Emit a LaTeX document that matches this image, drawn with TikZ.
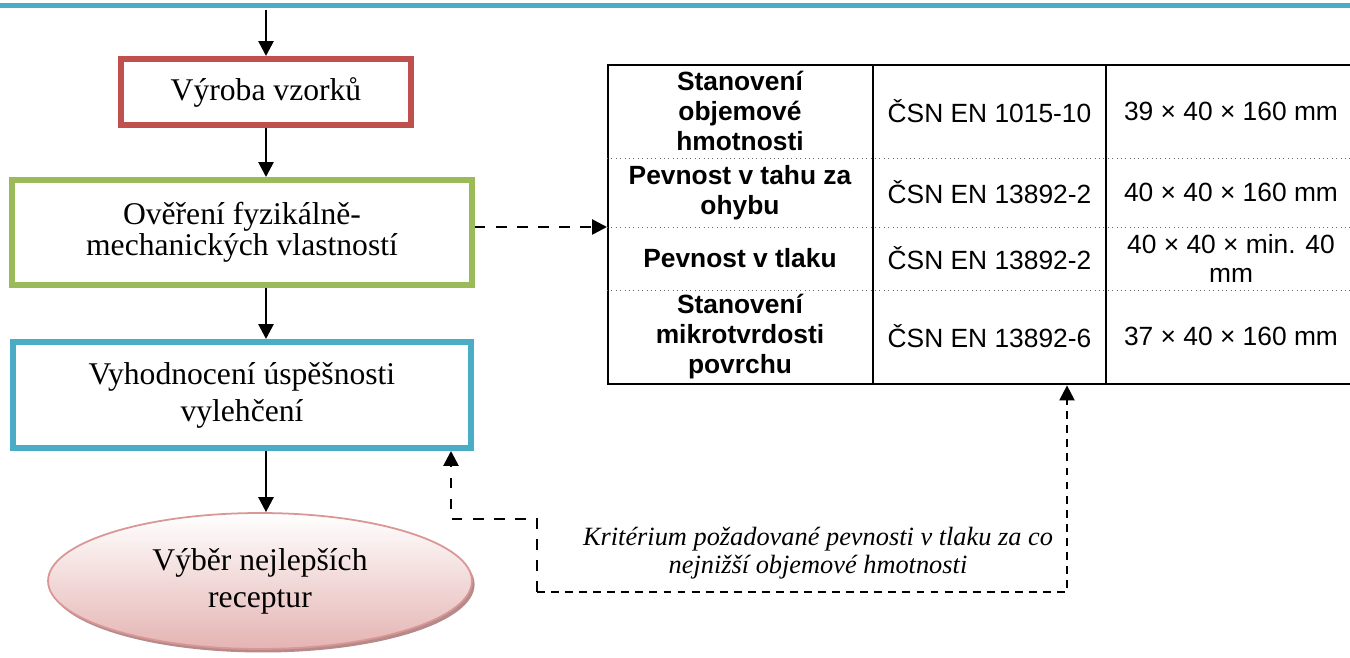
\documentclass[tikz,border=0pt]{standalone}
\usepackage{fontspec}
\setmainfont{Liberation Serif}
\setsansfont{Liberation Sans}
\usetikzlibrary{arrows.meta,shapes.geometric,shadows}

\definecolor{accentblue}{HTML}{4BACC6}
\definecolor{accentred}{HTML}{C0504D}
\definecolor{accentgreen}{HTML}{9BBB59}
\definecolor{ellpink}{HTML}{E4B4B3}
\definecolor{ellborder}{HTML}{D99694}
\definecolor{ellshadow}{HTML}{B48A8A}

\begin{document}
\begin{tikzpicture}[x=0.02cm, y=-0.02cm,
  stepbox/.style={draw, line width=3.4pt, align=center, inner sep=0pt,
    font=\fontsize{18}{21}\selectfont},
  flow/.style={-{Triangle[length=8.5pt,width=8.5pt]}, line width=1.5pt},
  dashwide/.style={flow, dash pattern=on 6pt off 6pt},
  dashnarrow/.style={flow, line width=1.3pt, dash pattern=on 4.5pt off 3.5pt},
  headcell/.style={font=\sffamily\bfseries\fontsize{15}{17}\selectfont, align=center},
  cell/.style={font=\sffamily\fontsize{15}{17}\selectfont, align=center},
  tabrule/.style={line width=1.4pt},
  rowrule/.style={black!60, line width=0.5pt, dotted}]
  \useasboundingbox (0,0) rectangle (1350,658);

  % Top rule
  \draw[accentblue, line width=2.9pt] (0,5.5) -- (1350,5.5);
  \coordinate (start) at (266,10);

  % Flow steps
  \node[stepbox, draw=accentred, minimum width=5.8cm, minimum height=1.32cm]
    (prod) at (266,92) {Výroba vzorků};
  \node[stepbox, draw=accentgreen, minimum width=9.2cm, minimum height=2.1cm,
    font=\fontsize{18}{17.5}\selectfont]
    (test) at (242,232.5) {Ověření fyzikálně-\\mechanických vlastností};
  \node[stepbox, draw=accentblue, minimum width=9.16cm, minimum height=2.12cm]
    (eval) at (242,395) {Vyhodnocení úspěšnosti\\vylehčení};
  \node[ellipse, draw=ellborder, line width=1pt, top color=white, bottom color=ellpink,
    minimum width=8.48cm, minimum height=2.72cm, inner sep=0pt, align=center,
    font=\fontsize{18}{21}\selectfont,
    drop shadow={shadow xshift=1.5pt, shadow yshift=-2pt, fill=ellshadow, opacity=1}]
    (best) at (260,581) {Výběr nejlepších\\receptur};

  \draw[flow] (start) -- (prod.north);
  \draw[flow] (prod.south) -- (prod.south |- test.north);
  \draw[flow] (prod.south |- test.south) -- (prod.south |- eval.north);
  \draw[flow] (prod.south |- eval.south) -- (prod.south |- best.north);

  % Table of tests
  \node[draw, tabrule, anchor=north west, inner sep=0pt,
    minimum width=14.98cm, minimum height=6.38cm] (tab) at (607,64) {};
  \foreach \cx in {873,1106}
    \draw[tabrule] (\cx,64) -- (\cx,383);
  \foreach \ry in {158,227,290}
    \draw[rowrule] (607,\ry) -- (1356,\ry);

  \node[headcell] (h1) at (740,111) {Stanovení\\objemové\\hmotnosti};
  \node[headcell] (h2) at (740,192.5) {Pevnost v tahu za\\ohybu};
  \node[headcell] (h3) at (740,258.5) {Pevnost v tlaku};
  \node[headcell] (h4) at (740,336.5) {Stanovení\\mikrotvrdosti\\povrchu};

  \node[cell] (n1) at (989.5,111) {ČSN EN 1015-10};
  \node[cell] (n2) at (989.5,192.5) {ČSN EN 13892-2};
  \node[cell] (n3) at (989.5,258.5) {ČSN EN 13892-2};
  \node[cell] (n4) at (989.5,336.5) {ČSN EN 13892-6};

  \node[cell] (d1) at (1231,111) {39 × 40 × 160 mm};
  \node[cell] (d2) at (1231,192.5) {40 × 40 × 160 mm};
  \node[cell] (d3) at (1231,258.5) {40 × 40 × min. 40\\mm};
  \node[cell] (d4) at (1231,336.5) {37 × 40 × 160 mm};

  % Dashed links
  \coordinate (r2) at (607,227);
  \draw[dashwide] (test.east |- r2) -- (r2);

  \coordinate (lp1) at (537,592);
  \coordinate (lp2) at (1067,592);
  \coordinate (lp3) at (451,519);
  \draw[dashnarrow] (lp1) -- (lp2) -- (lp2 |- tab.south);
  \draw[dashwide] (lp1) -- (lp1 |- lp3) -- (lp3) -- (lp3 |- eval.south);

  \node[font=\itshape\fontsize{15}{16}\selectfont, align=center] (crit) at (818,553)
    {Kritérium požadované pevnosti v tlaku za co\\nejnižší objemové hmotnosti};
\end{tikzpicture}
\end{document}
